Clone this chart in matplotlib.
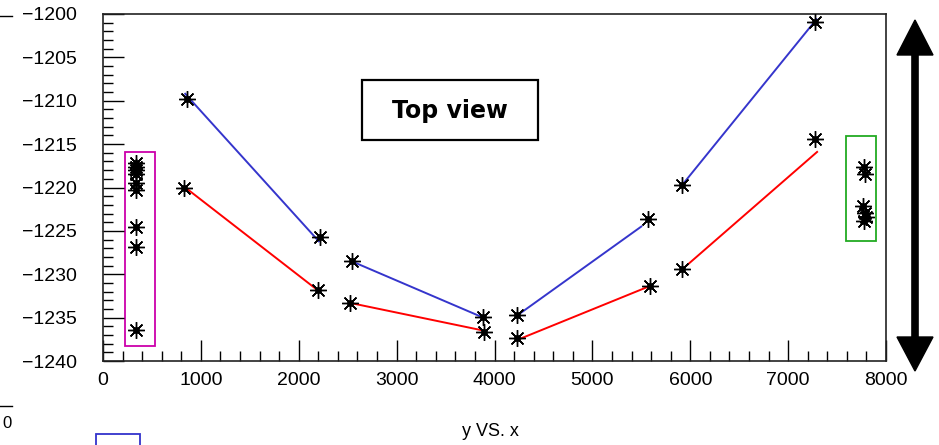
import matplotlib.pyplot as plt
from matplotlib.patches import Rectangle, Polygon
from matplotlib.lines import Line2D

# measured hit positions (x, y)
mid_x = [855, 2216, 2540, 3885, 4226, 5570, 5911, 7273,
         830, 2199, 2523, 3895, 4226, 5587, 5911, 7273]
mid_y = [-1209.8, -1225.7, -1228.5, -1234.9, -1234.7, -1223.6, -1219.7, -1200.9,
         -1220.1, -1231.8, -1233.3, -1236.7, -1237.3, -1231.3, -1229.4, -1214.4]

left_x = [340, 340, 340, 340, 340, 340, 340, 340, 340]
left_y = [-1217.2, -1217.6, -1218.0, -1218.4, -1219.5, -1220.3, -1224.6, -1226.9, -1236.4]

right_x = [7780, 7790, 7770, 7785, 7795, 7775]
right_y = [-1217.6, -1218.4, -1222.1, -1222.9, -1223.4, -1223.9]

# fitted track segments: (x0, x1, y0, y1)
blue_segs = [(840, 2205, -1209.2, -1226.2),
             (2540, 3885, -1228.5, -1235.0),
             (4226, 5500, -1234.8, -1224.5),
             (5911, 7290, -1219.8, -1200.6)]
red_segs = [(840, 2200, -1220.0, -1231.9),
            (2523, 3890, -1233.3, -1236.5),
            (4226, 5600, -1237.6, -1231.3),
            (5911, 7296, -1229.5, -1215.9)]

x_ticks = [0, 1000, 2000, 3000, 4000, 5000, 6000, 7000, 8000]
y_ticks = [-1240, -1235, -1230, -1225, -1220, -1215, -1210, -1205, -1200]

plt.rcParams['font.family'] = ['Liberation Sans', 'DejaVu Sans']

W, H = 939, 445
fig = plt.figure(figsize=(W / 100, H / 100), dpi=100)


def fx(px):
    return px / W


def fy(py):
    return 1 - py / H


ax = fig.add_axes([fx(103), fy(361), 783 / W, 347 / H])

for x0, x1, y0, y1 in blue_segs:
    ax.plot([x0, x1], [y0, y1], color='#3535cc', lw=1.4, zorder=2)
for x0, x1, y0, y1 in red_segs:
    ax.plot([x0, x1], [y0, y1], color='#ff0000', lw=1.4, zorder=2)

for xs, ys in [(mid_x, mid_y), (left_x, left_y), (right_x, right_y)]:
    ax.plot(xs, ys, ls='none', marker=(8, 2, 0), ms=12, mec='black', mew=1.0, zorder=3)
    ax.plot(xs, ys, ls='none', marker='o', ms=4, mfc='black', mec='black', zorder=4)

ax.add_patch(Rectangle((225, -1238.3), 306, 22.4, fill=False, ec='#cc00aa', lw=1.3, zorder=1))
ax.add_patch(Rectangle((7595, -1226.2), 307, 12.1, fill=False, ec='#22aa22', lw=1.3, zorder=1))

ax.set_xlim(0, 8000)
ax.set_ylim(-1240, -1200)
ax.set_xticks(x_ticks)
ax.set_yticks(y_ticks)
ax.set_xticks(range(0, 8001, 200), minor=True)
ax.set_yticks(range(-1240, -1199, 1), minor=True)
ax.tick_params(which='major', direction='in', length=15, width=1, labelsize=14)
ax.tick_params(axis='y', which='major', pad=19)
ax.tick_params(axis='x', which='major', pad=8)
ax.tick_params(which='minor', direction='in', length=7, width=1)
ax.tick_params(top=False, right=False, which='both')
for s in ax.spines.values():
    s.set_linewidth(1.2)
    s.set_color('#222222')

# label box
fig.add_artist(Rectangle((fx(362), fy(140)), 176 / W, 60 / H, transform=fig.transFigure,
                         fill=False, ec='black', lw=1.6))
fig.text(fx(450), fy(111), 'Top view', fontsize=17, fontweight='bold',
         family=['DejaVu Sans'], ha='center', va='center')

# vertical double arrow on the right
cx = 915
fig.add_artist(Line2D([fx(cx), fx(cx)], [fy(50), fy(342)], color='black', lw=5.5,
                      solid_capstyle='butt'))
fig.add_artist(Polygon([(fx(cx), fy(20)), (fx(cx - 18), fy(55)), (fx(cx + 18), fy(55))],
                       closed=True, transform=fig.transFigure, fc='black', ec='black'))
fig.add_artist(Polygon([(fx(cx), fy(371)), (fx(cx - 18), fy(337)), (fx(cx + 18), fy(337))],
                       closed=True, transform=fig.transFigure, fc='black', ec='black'))

# pieces of neighbouring panels
fig.add_artist(Line2D([0, fx(12)], [fy(16), fy(16)], color='black', lw=1))
fig.add_artist(Line2D([0, fx(12)], [fy(406), fy(406)], color='black', lw=1))
fig.text(fx(2), fy(424), '0', fontsize=12, va='center', ha='left')
fig.add_artist(Rectangle((fx(96), -0.02), 44 / W, 11 / H + 0.02, transform=fig.transFigure,
                         fill=False, ec='#3333cc', lw=1.3))
fig.text(fx(490), fy(432), 'y VS. x', fontsize=13, ha='center', va='center')

fig.savefig('out.png', dpi=100)
